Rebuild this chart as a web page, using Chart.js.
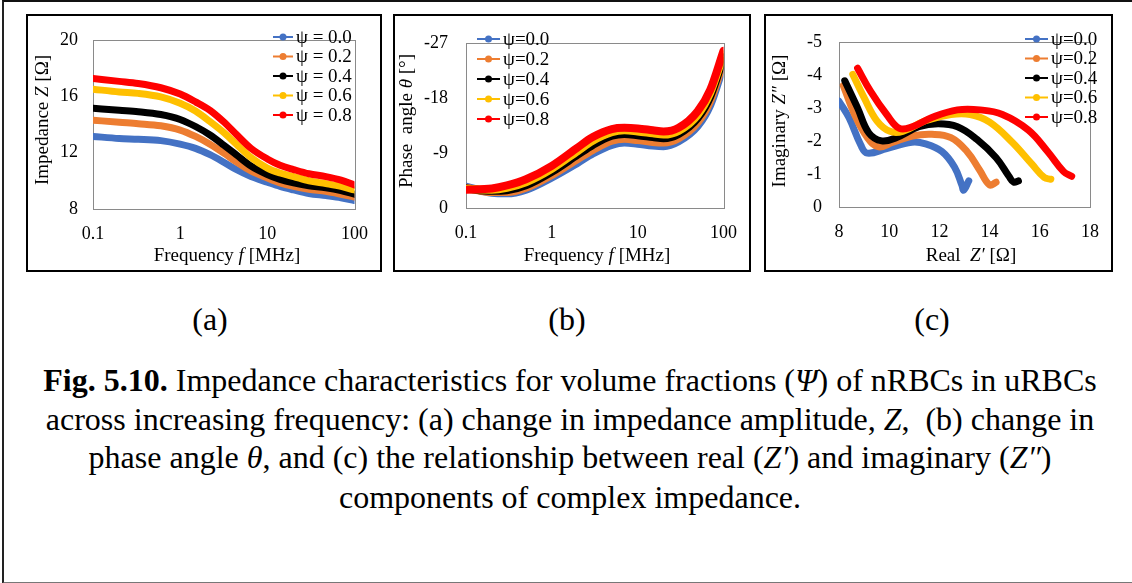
<!DOCTYPE html>
<html>
<head>
<meta charset="utf-8">
<script src="https://cdn.jsdelivr.net/npm/chart.js@4.4.1/dist/chart.umd.min.js"></script>
<style>
  body { margin: 0; background: #fff; width: 1132px; height: 583px; overflow: hidden; position: relative; font-family: "Liberation Serif", "Times New Roman", serif; color: #000; }
  .frame { position: absolute; left: 2px; top: 0; width: 1140px; height: 580px; border-left: 2px solid #222; border-top: 2px solid #111; border-bottom: 2px solid #777; }
  .box { position: absolute; box-sizing: border-box; border: 2px solid #000; }
  canvas { position: absolute; }
  .sub, .cap { position: absolute; font-family: "Liberation Serif", "Times New Roman", serif; font-size: 32px; line-height: 38px; transform: translateX(-50%); white-space: nowrap; }
  .cap { left: 570px; }
</style>
</head>
<body>
<div class="frame"></div>

<div class="box" style="left:26px;top:14px;width:356px;height:258px"></div>
<div class="box" style="left:393px;top:14px;width:358px;height:258px"></div>
<div class="box" style="left:764px;top:14px;width:349px;height:258px"></div>
<canvas id="chartA" width="356" height="258" style="left:26px;top:14px"></canvas>
<canvas id="chartB" width="358" height="258" style="left:393px;top:14px"></canvas>
<canvas id="chartC" width="349" height="258" style="left:764px;top:14px"></canvas>

<div class="sub" style="left:210px;top:300px">(a)</div>
<div class="sub" style="left:567px;top:300px">(b)</div>
<div class="sub" style="left:932px;top:300px">(c)</div>

<div class="cap" style="top:361px"><b>Fig. 5.10.</b> Impedance characteristics for volume fractions (<i>Ψ</i>) of nRBCs in uRBCs</div>
<div class="cap" style="top:400px">across increasing frequency: (a) change in impedance amplitude, <i>Z</i>,&nbsp; (b) change in</div>
<div class="cap" style="top:438px">phase angle <i>θ</i>, and (c) the relationship between real (<i>Z′</i>) and imaginary (<i>Z″</i>)</div>
<div class="cap" style="top:478px">components of complex impedance.</div>

<script>
// series names and colours
const psiLabels = ['0.0', '0.2', '0.4', '0.6', '0.8'];
const colors = ['#4472C4', '#ED7D31', '#000000', '#FFC000', '#FF0000'];

// (a) impedance amplitude vs frequency
const freqA = [0.1, 0.2, 0.33, 0.6, 1, 1.5, 2.2, 3.2, 4.4, 6.5, 10, 14, 20, 30, 47, 70, 100];
const zPsi00 = [13.15, 13.0, 12.95, 12.85, 12.6, 12.3, 11.85, 11.3, 10.8, 10.3, 9.9, 9.6, 9.35, 9.1, 8.95, 8.8, 8.6];
const zPsi02 = [14.3, 14.15, 14.05, 13.9, 13.6, 13.15, 12.6, 11.95, 11.35, 10.7, 10.2, 9.85, 9.6, 9.4, 9.25, 9.05, 8.85];
const zPsi04 = [15.15, 15.0, 14.9, 14.7, 14.35, 13.85, 13.25, 12.5, 11.85, 11.05, 10.45, 10.1, 9.85, 9.65, 9.5, 9.3, 9.05];
const zPsi06 = [16.5, 16.3, 16.2, 15.95, 15.5, 14.95, 14.2, 13.4, 12.6, 11.65, 10.9, 10.55, 10.3, 10.0, 9.8, 9.6, 9.35];
const zPsi08 = [17.25, 17.05, 16.9, 16.6, 16.15, 15.6, 15.0, 14.15, 13.3, 12.3, 11.55, 11.1, 10.8, 10.5, 10.3, 10.05, 9.7];

// (b) phase angle vs frequency
const freqB = [0.1, 0.2, 0.3, 0.5, 1, 2, 3, 5, 7, 10, 15, 20, 30, 50, 70, 100];
const thPsi00 = [-3.5, -2.5, -2.4, -3.0, -5.0, -7.4, -8.9, -10.3, -10.7, -10.5, -10.2, -10.1, -10.9, -13.4, -16.8, -23.3];
const thPsi02 = [-3.3, -2.6, -2.6, -3.3, -5.4, -8.0, -9.5, -11.0, -11.3, -11.1, -10.8, -10.7, -11.4, -14.0, -17.5, -24.0];
const thPsi04 = [-3.2, -2.8, -2.9, -3.7, -5.9, -8.7, -10.3, -11.8, -12.1, -11.9, -11.6, -11.4, -12.1, -14.7, -18.2, -24.6];
const thPsi06 = [-3.1, -3.0, -3.3, -4.2, -6.4, -9.3, -11.0, -12.4, -12.7, -12.5, -12.2, -12.0, -12.6, -15.2, -18.8, -25.1];
const thPsi08 = [-3.0, -3.2, -3.7, -4.7, -6.9, -9.9, -11.6, -12.9, -13.1, -13.0, -12.7, -12.5, -13.1, -15.8, -19.3, -25.7];

// (c) Nyquist plot: real Z' and imaginary Z''
const rePsi00 = [8.0, 8.4, 8.87, 9.13, 9.9, 10.9, 11.45, 12.1, 12.6, 12.9, 12.97, 13.17];
const imPsi00 = [-3.2, -2.7, -1.87, -1.63, -1.77, -1.96, -1.91, -1.68, -1.21, -0.65, -0.51, -0.79];
const rePsi02 = [8.17, 8.62, 9.13, 9.58, 10.15, 10.92, 11.7, 12.46, 13.1, 13.6, 14.0, 14.26];
const imPsi02 = [-3.68, -2.8, -2.1, -1.82, -1.96, -2.15, -2.2, -2.1, -1.68, -1.12, -0.67, -0.75];
const rePsi04 = [8.23, 8.74, 9.19, 9.7, 10.28, 11.18, 11.95, 12.72, 13.49, 14.26, 14.77, 14.96, 15.15];
const imPsi04 = [-3.82, -3.0, -2.24, -2.0, -2.1, -2.43, -2.52, -2.43, -2.05, -1.49, -0.93, -0.75, -0.79];
const rePsi06 = [8.55, 9.0, 9.51, 10.03, 10.54, 11.44, 12.46, 13.23, 14.0, 14.9, 15.67, 16.18, 16.44];
const imPsi06 = [-4.01, -3.31, -2.61, -2.29, -2.29, -2.61, -2.8, -2.8, -2.57, -1.96, -1.31, -0.89, -0.84];
const rePsi08 = [8.74, 9.26, 9.9, 10.41, 10.92, 11.7, 12.72, 13.62, 14.51, 15.54, 16.31, 16.95, 17.27];
const imPsi08 = [-4.2, -3.5, -2.8, -2.38, -2.43, -2.71, -2.94, -2.94, -2.8, -2.33, -1.68, -1.07, -0.93];

const SERIF = '"Liberation Serif", "Times New Roman", serif';

function pairs(xs, ys) {
    return xs.map((x, i) => ({ x: x, y: ys[i] }));
}

function makeDatasets(seriesList, width, tension) {
    return seriesList.map((data, i) => ({
        label: psiLabels[i],
        data: data,
        borderColor: colors[i],
        backgroundColor: colors[i],
        borderWidth: width,
        pointRadius: 0,
        borderCapStyle: 'round',
        borderJoinStyle: 'round',
        tension: tension,
        cubicInterpolationMode: tension ? 'default' : 'monotone',
        order: seriesList.length - i
    }));
}

// draws text made of [string, italic] parts, centred on (cx, cy)
function drawRich(ctx, parts, cx, cy, rotate, size) {
    ctx.save();
    ctx.translate(cx, cy);
    if (rotate) ctx.rotate(-Math.PI / 2);
    ctx.textBaseline = 'middle';
    ctx.fillStyle = '#000';
    let total = 0;
    parts.forEach(p => {
        ctx.font = (p[1] ? 'italic ' : '') + size + 'px ' + SERIF;
        total += ctx.measureText(p[0]).width;
    });
    let x = -total / 2;
    parts.forEach(p => {
        ctx.font = (p[1] ? 'italic ' : '') + size + 'px ' + SERIF;
        ctx.fillText(p[0], x, 0);
        x += ctx.measureText(p[0]).width;
    });
    ctx.restore();
}

// plot frame, axis titles and the in-plot legend
function decorPlugin(cfg) {
    return {
        id: 'decor',
        beforeDatasetsDraw(chart) {
            const a = chart.chartArea;
            const ctx = chart.ctx;
            ctx.save();
            ctx.strokeStyle = '#8a8a8a';
            ctx.lineWidth = 1;
            ctx.strokeRect(Math.round(a.left) + 0.5, Math.round(a.top) + 0.5, Math.round(a.right - a.left), Math.round(a.bottom - a.top));
            ctx.restore();
        },
        afterDatasetsDraw(chart) {
            const ctx = chart.ctx;
            drawRich(ctx, cfg.xTitle, cfg.xPos[0], cfg.xPos[1], false, 19);
            drawRich(ctx, cfg.yTitle, cfg.yPos[0], cfg.yPos[1], true, 19);
            const lg = cfg.legend;
            ctx.save();
            chart.data.datasets.forEach((ds, i) => {
                const y = lg.y0 + i * lg.step;
                ctx.strokeStyle = ds.borderColor;
                ctx.fillStyle = ds.borderColor;
                ctx.lineWidth = 2;
                ctx.beginPath();
                ctx.moveTo(lg.x0, y);
                ctx.lineTo(lg.x1, y);
                ctx.stroke();
                ctx.beginPath();
                ctx.arc((lg.x0 + lg.x1) / 2, y, 3.5, 0, Math.PI * 2);
                ctx.fill();
                ctx.fillStyle = '#000';
                ctx.font = '19px ' + SERIF;
                ctx.textBaseline = 'middle';
                ctx.fillText(lg.fmt(ds.label), lg.x1 + 3, y + 1);
            });
            ctx.restore();
        }
    };
}

function logAxis(height) {
    return {
        type: 'logarithmic',
        min: 0.1,
        max: 100,
        grid: { display: false, drawTicks: false },
        border: { display: false },
        afterBuildTicks: s => { s.ticks = [0.1, 1, 10, 100].map(v => ({ value: v })); },
        afterFit: s => { s.height = height; },
        ticks: {
            autoSkip: false,
            maxRotation: 0,
            padding: 14,
            color: '#000',
            font: { family: SERIF, size: 18 },
            callback: v => String(v)
        }
    };
}

function linAxis(opts) {
    const axis = {
        type: 'linear',
        min: opts.min,
        max: opts.max,
        reverse: !!opts.reverse,
        grid: { display: false, drawTicks: false },
        border: { display: false },
        afterFit: s => {
            if (opts.width) s.width = opts.width;
            if (opts.height) s.height = opts.height;
        },
        ticks: {
            stepSize: opts.step,
            autoSkip: false,
            maxRotation: 0,
            padding: opts.padding,
            color: '#000',
            font: { family: SERIF, size: 18 },
            callback: v => String(v)
        }
    };
    return axis;
}

function baseOptions(padding, scales) {
    return {
        responsive: false,
        animation: false,
        layout: { padding: padding },
        plugins: { legend: { display: false }, tooltip: { enabled: false } },
        scales: scales
    };
}

new Chart(document.getElementById('chartA'), {
    type: 'line',
    data: {
        datasets: makeDatasets([zPsi00, zPsi02, zPsi04, zPsi06, zPsi08].map(ys => pairs(freqA, ys)), 7, 0)
    },
    options: baseOptions({ left: 0, top: 11, right: 20, bottom: 0 }, {
        x: logAxis(63),
        y: linAxis({ min: 8, max: 20, step: 4, width: 67, padding: 15 })
    }),
    plugins: [decorPlugin({
        xTitle: [['Frequency ', false], ['f', true], [' [MHz]', false]],
        xPos: [201, 242],
        yTitle: [['Impedance ', false], ['Z', true], [' [Ω]', false]],
        yPos: [17, 106],
        legend: { x0: 247, x1: 267, y0: 23, step: 19.5, fmt: s => 'ψ = ' + s }
    })]
});

new Chart(document.getElementById('chartB'), {
    type: 'line',
    data: {
        datasets: makeDatasets([thPsi00, thPsi02, thPsi04, thPsi06, thPsi08].map(ys => pairs(freqB, ys)), 8, 0)
    },
    options: baseOptions({ left: 0, top: 11, right: 19, bottom: 0 }, {
        x: logAxis(64),
        y: linAxis({ min: -27, max: 0, step: 9, reverse: true, width: 73, padding: 18 })
    }),
    plugins: [decorPlugin({
        xTitle: [['Frequency ', false], ['f', true], [' [MHz]', false]],
        xPos: [204, 242],
        yTitle: [['Phase  angle ', false], ['θ', true], [' [°]', false]],
        yPos: [14, 107],
        legend: { x0: 84, x1: 107, y0: 25, step: 20, fmt: s => 'ψ=' + s }
    })]
});

new Chart(document.getElementById('chartC'), {
    type: 'line',
    data: {
        datasets: makeDatasets([
            pairs(rePsi00, imPsi00), pairs(rePsi02, imPsi02), pairs(rePsi04, imPsi04),
            pairs(rePsi06, imPsi06), pairs(rePsi08, imPsi08)
        ], 7, 0.4)
    },
    options: baseOptions({ left: 0, top: 14, right: 14, bottom: 0 }, {
        x: linAxis({ min: 8, max: 18, step: 2, height: 65, padding: 14 }),
        y: linAxis({ min: -5, max: 0, step: 1, reverse: true, width: 75, padding: 17 })
    }),
    plugins: [decorPlugin({
        xTitle: [['Real  ', false], ['Z′', true], [' [Ω]', false]],
        xPos: [207, 242],
        yTitle: [['Imaginary ', false], ['Z″', true], [' [Ω]', false]],
        yPos: [16, 107],
        legend: { x0: 261, x1: 284, y0: 25, step: 19.5, fmt: s => 'ψ=' + s }
    })]
});
</script>
</body>
</html>
